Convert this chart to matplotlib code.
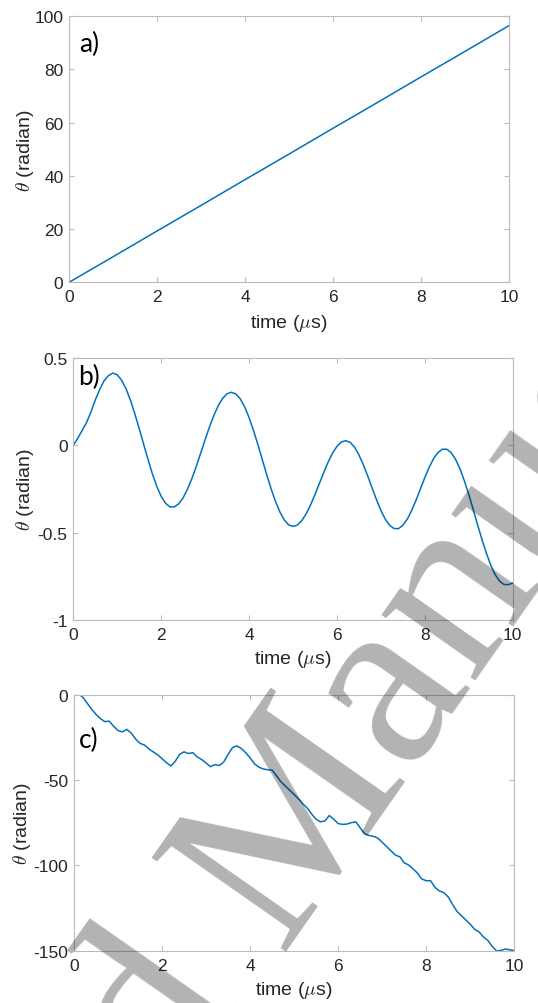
import matplotlib
matplotlib.use('Agg')
import matplotlib.pyplot as plt

plt.rcParams.update({
    'font.family': ['Liberation Sans', 'DejaVu Sans'],
    'mathtext.fontset': 'cm',
    'font.size': 12.5,
})

# ---- data ----
t_a = [0, 1, 2, 3, 4, 5, 6, 7, 8, 9, 10]
theta_a = [0, 9.6, 19.3, 28.9, 38.6, 48.2, 57.9, 67.5, 77.2, 86.8, 96.5]

t_b = [i / 10 for i in range(101)]
theta_b = [
    0.000, 0.040, 0.085, 0.130, 0.190, 0.260, 0.320, 0.370, 0.400, 0.415,
    0.405, 0.374, 0.325, 0.260, 0.182, 0.097, 0.008, -0.080, -0.163, -0.235,
    -0.292, -0.332, -0.353, -0.353, -0.335, -0.301, -0.251, -0.190, -0.120, -0.044,
    0.032, 0.106, 0.172, 0.228, 0.270, 0.296, 0.305, 0.295, 0.267, 0.221,
    0.160, 0.087, 0.006, -0.080, -0.166, -0.247, -0.320, -0.381, -0.427, -0.456,
    -0.465, -0.457, -0.432, -0.393, -0.342, -0.283, -0.219, -0.156, -0.096, -0.045,
    -0.006, 0.019, 0.027, 0.018, -0.010, -0.054, -0.110, -0.175, -0.244, -0.311,
    -0.373, -0.423, -0.459, -0.477, -0.478, -0.459, -0.424, -0.374, -0.315, -0.250,
    -0.185, -0.126, -0.076, -0.041, -0.022, -0.022, -0.042, -0.080, -0.134, -0.203,
    -0.281, -0.366, -0.454, -0.539, -0.617, -0.686, -0.741, -0.778, -0.798, -0.799,
    -0.790,
]

t_c = [i / 10 for i in range(101)]
theta_c = [
    0.0, 0.5, -1.5, -5.0, -8.5, -11.5, -14.0, -15.8, -15.5, -18.5,
    -21.0, -21.8, -20.3, -22.5, -26.0, -28.5, -29.5, -31.8, -33.5, -35.2,
    -37.5, -39.8, -41.8, -39.0, -35.0, -33.5, -34.5, -34.0, -36.5, -38.0,
    -40.0, -42.2, -41.0, -41.5, -39.5, -35.0, -31.0, -30.0, -31.5, -34.0,
    -37.0, -40.5, -42.5, -43.5, -44.0, -44.2, -47.5, -51.0, -53.5, -56.0,
    -58.5, -61.0, -64.0, -66.5, -70.0, -73.0, -74.5, -74.0, -70.8, -73.0,
    -75.5, -76.0, -75.8, -75.0, -74.5, -78.0, -81.5, -82.5, -83.0, -84.0,
    -86.5, -89.0, -91.5, -94.0, -95.0, -98.5, -99.8, -102.0, -104.5, -108.0,
    -109.0, -109.0, -113.0, -115.0, -116.0, -118.5, -123.0, -127.0, -129.5, -132.0,
    -134.5, -137.5, -139.0, -142.0, -144.0, -147.5, -150.2, -149.8, -149.0, -149.5,
    -150.0,
]

xticks = [0, 2, 4, 6, 8, 10]
yticks_a = [0, 20, 40, 60, 80, 100]
yticks_b = [-1, -0.5, 0, 0.5]
ylabels_b = ['-1', '-0.5', '0', '0.5']
yticks_c = [-150, -100, -50, 0]
ylabels_c = ['-150', '-100', '-50', '0']

LINE = '#0072BD'
AXC = '#bcbcbc'
TXT = '#262626'

fig = plt.figure(figsize=(5.38, 10.04), dpi=100)

panels = [
    # rect, t, theta, ylim, yticks, ylabels, label, label pos, ylabel x
    ([0.1283, 0.7178, 0.8178, 0.2650], t_a, theta_a, (0, 100), yticks_a,
     [str(v) for v in yticks_a], 'a)', (0.024, 0.898), -0.100),
    ([0.1362, 0.3818, 0.8167, 0.2604], t_b, theta_b, (-1, 0.5), yticks_b,
     ylabels_b, 'b)', (0.010, 0.930), -0.110),
    ([0.1375, 0.0521, 0.8184, 0.2550], t_c, theta_c, (-150, 0), yticks_c,
     ylabels_c, 'c)', (0.011, 0.825), -0.118),
]

for rect, t, th, ylim, yt, ylab, lab, lpos, ylx in panels:
    ax = fig.add_axes(rect)
    ax.plot(t, th, color=LINE, lw=1.1)
    ax.set_xlim(0, 10)
    ax.set_ylim(*ylim)
    ax.set_xticks(xticks)
    ax.set_xticklabels([str(v) for v in xticks])
    ax.set_yticks(yt)
    ax.set_yticklabels(ylab)
    ax.tick_params(direction='in', length=3.5, width=0.8, color=AXC,
                   labelcolor=TXT, labelsize=12.5, top=True, right=True)
    ax.tick_params(axis='x', pad=5)
    ax.tick_params(axis='y', pad=4)
    for sp in ax.spines.values():
        sp.set_color(AXC)
        sp.set_linewidth(0.8)
    ax.set_xlabel(r'time ($\mu$s)', fontsize=14, color=TXT, va='center')
    ax.set_ylabel(r'$\theta$ (radian)', fontsize=14, color=TXT, va='center')
    ax.xaxis.set_label_coords(0.5, -0.150)
    ax.yaxis.set_label_coords(ylx, 0.5)
    ax.text(lpos[0], lpos[1], lab, transform=ax.transAxes, fontsize=19,
            family=['Lato', 'DejaVu Sans'], color='black', ha='left',
            va='center')

# grey "Accepted Manuscript" watermark across the page
fig.text(0.5186, 0.0518, 'Manuscript', fontsize=180, family='Liberation Serif',
         color='black', alpha=0.3, rotation=55, rotation_mode='anchor',
         ha='left', va='baseline')
fig.text(0.5186, 0.0518, 'Accepted ', fontsize=180, family='Liberation Serif',
         color='black', alpha=0.3, rotation=55, rotation_mode='anchor',
         ha='right', va='baseline')

fig.savefig('out.png', dpi=100)
